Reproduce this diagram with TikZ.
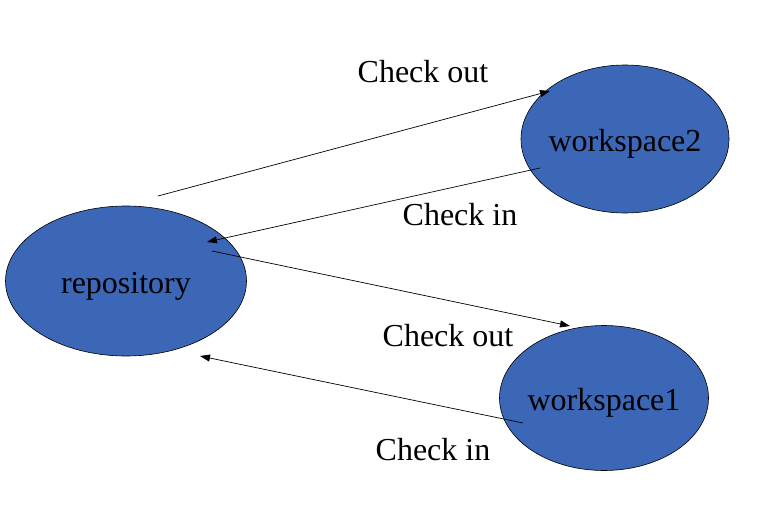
\documentclass[tikz,border=0pt]{standalone}
\usepackage{fontspec}
\setmainfont{Liberation Serif}
\usetikzlibrary{shapes.geometric, arrows.meta}

\begin{document}
\begin{tikzpicture}[
    x=1pt, y=-1pt,
    font=\fontsize{32}{38}\selectfont,
    >={Triangle[length=10pt, width=7pt]},
    store/.style={ellipse, draw=black, line width=0.6pt, fill={rgb,255:red,59;green,103;blue,182}, inner ysep=0pt, inner xsep=-6pt, text height=25pt, text depth=0pt},
    arrow/.style={->, line width=0.7pt, black},
    lbl/.style={inner sep=0pt}
]
\useasboundingbox (0,0) rectangle (759,513);

% Nodes
\node[store, minimum width=241pt, minimum height=150pt] (repo) at (126,281) {repository};
\node[store, minimum width=208pt, minimum height=148pt] (ws2) at (625,139) {workspace2};
\node[store, minimum width=209pt, minimum height=145pt] (ws1) at (604,398) {workspace1};

% Arrow ends
\coordinate (out2a) at ([shift={(32,-85)}]repo.center);
\coordinate (out2b) at ([shift={(-75,-48)}]ws2.center);
\coordinate (in2a) at ([shift={(-85,29)}]ws2.center);
\coordinate (in2b) at ([shift={(81,-39)}]repo.center);
\coordinate (out1a) at ([shift={(86,-30)}]repo.center);
\coordinate (out1b) at ([shift={(-34,-72)}]ws1.center);
\coordinate (in1a) at ([shift={(-81,25)}]ws1.center);
\coordinate (in1b) at ([shift={(74,75)}]repo.center);

% Arrows
\draw[arrow] (out2a) -- (out2b);
\draw[arrow] (in2a) -- (in2b);
\draw[arrow] (out1a) -- (out1b);
\draw[arrow] (in1a) -- (in1b);

% Labels
\node[lbl] (lout2) at (423,72) {Check out};
\node[lbl] (lin2) at (460,215) {Check in};
\node[lbl] (lout1) at (448,336) {Check out};
\node[lbl] (lin1) at (433,450) {Check in};

\end{tikzpicture}
\end{document}
